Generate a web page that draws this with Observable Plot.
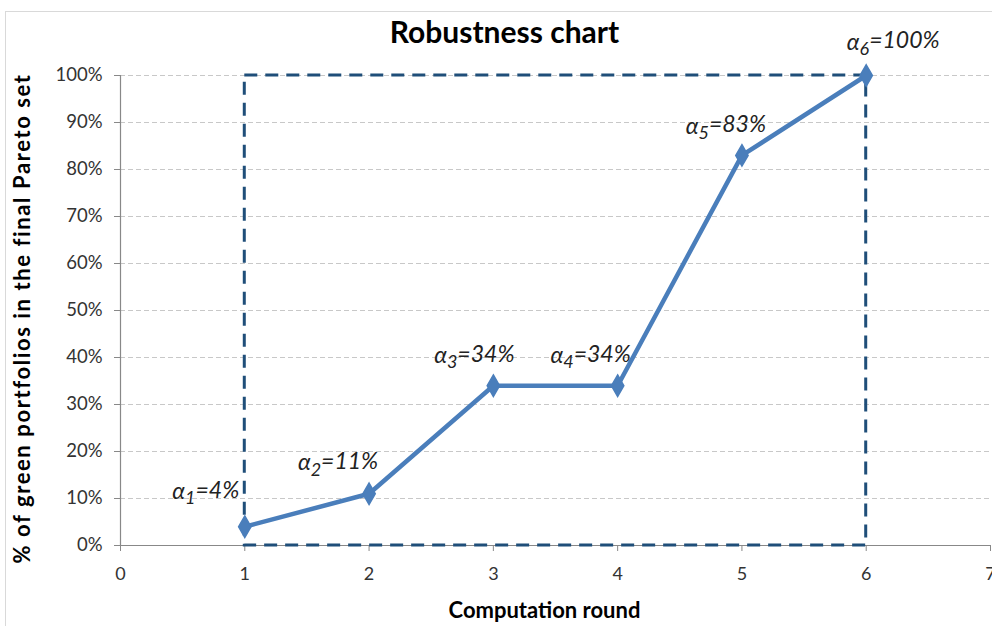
<!DOCTYPE html>
<html>
<head>
<meta charset="utf-8">
<script src="https://cdn.jsdelivr.net/npm/d3@7"></script>
<script src="https://cdn.jsdelivr.net/npm/@observablehq/plot@0.6"></script>
<style>
  body { margin: 0; background: #fff; }
  #wrap { position: relative; width: 992px; height: 626px; overflow: hidden; }
  #border { position: absolute; left: 5px; top: 11px; width: 1100px; height: 700px; border: 1px solid #d9d9d9; box-sizing: border-box; pointer-events: none; }
  svg { position: absolute; left: 0; top: 0; }
</style>
</head>
<body>
<div id="wrap"><div id="border"></div></div>
<script>
// ---- data ----
const rounds = [1, 2, 3, 4, 5, 6];
const greenShare = [4, 11, 34, 34, 83, 100];
const xTicks = [0, 1, 2, 3, 4, 5, 6, 7];
const yTicks = [0, 10, 20, 30, 40, 50, 60, 70, 80, 90, 100];
const titleText = "Robustness chart";
const xLabel = "Computation round";
const yLabel = "% of green portfolios in the final Pareto set";

const data = rounds.map((r, i) => ({
  round: r,
  value: greenShare[i],
  label: `α${i + 1}=${greenShare[i]}%`
}));
const box = [{x1: rounds[0], x2: rounds[rounds.length - 1], y1: 0, y2: 100}];

// label offsets (style only)
const offsets = [[-39, -35], [-31, -31], [-19, -30], [-27, -30], [-16, -29], [27, -33]];

const font = "Lato, 'Open Sans', 'DejaVu Sans', sans-serif";
const lineColor = "#4A7EBB";
const boxColor = "#1F4E79";

const labelMarks = data.map((d, i) => Plot.text([d], {
  x: "round", y: "value", text: "label",
  dx: offsets[i][0], dy: offsets[i][1],
  fontSize: 23, fontStyle: "italic", fill: "#222", fontFamily: font
}));

const chart = Plot.plot({
  width: 992,
  height: 626,
  marginLeft: 120,
  marginRight: 2,
  marginTop: 75,
  marginBottom: 81,
  style: { fontFamily: font, background: "transparent", overflow: "visible" },
  x: { domain: [0, 7], ticks: xTicks, label: null },
  y: { domain: [0, 100], ticks: yTicks, label: null },
  marks: [
    Plot.ruleY(yTicks.filter(t => t > 0), { stroke: "#c8c8c8", strokeDasharray: "5,3", strokeWidth: 1 }),
    Plot.axisX({ ticks: xTicks, tickSize: 6, tickPadding: 16, stroke: "#888", fill: "#333", fontSize: 18, tickFormat: d => d, label: null }),
    Plot.axisY({ ticks: yTicks, tickSize: 6, tickPadding: 12, stroke: "#888", fill: "#333", fontSize: 18.5, tickFormat: d => d + "%", label: null }),
    Plot.ruleX([0], { stroke: "#888", strokeWidth: 1.2 }),
    Plot.ruleY([0], { stroke: "#888", strokeWidth: 1.2 }),
    Plot.rect(box, { x1: "x1", x2: "x2", y1: "y1", y2: "y2", fill: "none", stroke: boxColor, strokeWidth: 3, strokeDasharray: "13,8" }),
    Plot.line(data, { x: "round", y: "value", stroke: lineColor, strokeWidth: 4.5 }),
    Plot.dot(data, { x: "round", y: "value", symbol: "diamond", r: 6.5, fill: lineColor, stroke: lineColor }),
    ...labelMarks,
    Plot.text([titleText], { frameAnchor: "top", lineAnchor: "middle", dx: -51, dy: -42, fontSize: 30, fontWeight: "bold", fill: "#000", fontFamily: font }),
    Plot.text([xLabel], { frameAnchor: "bottom", lineAnchor: "middle", dx: -11, dy: 65, fontSize: 22, fontWeight: "bold", fill: "#000", fontFamily: font }),
    Plot.text([yLabel], { frameAnchor: "left", textAnchor: "middle", lineAnchor: "middle", dx: -98, dy: 8, rotate: -90, fontSize: 22, fontWeight: "bold", fill: "#000", fontFamily: font })
  ]
});
document.getElementById("wrap").appendChild(chart);

d3.select(chart).selectAll("text").each(function () {
  const t = this.textContent;
  if (t === yLabel) { this.setAttribute("letter-spacing", "1.6px"); return; }
  // render α labels with a lowered subscript index
  const m = /^α(\d)=(.*)$/.exec(t);
  if (!m) return;
  const sel = d3.select(this);
  sel.text(null);
  sel.append("tspan").text("α");
  sel.append("tspan").attr("dy", "0.3em").attr("font-size", "0.78em").text(m[1]);
  sel.append("tspan").attr("dy", "-0.3em").text("=" + m[2]);
});
</script>
</body>
</html>
